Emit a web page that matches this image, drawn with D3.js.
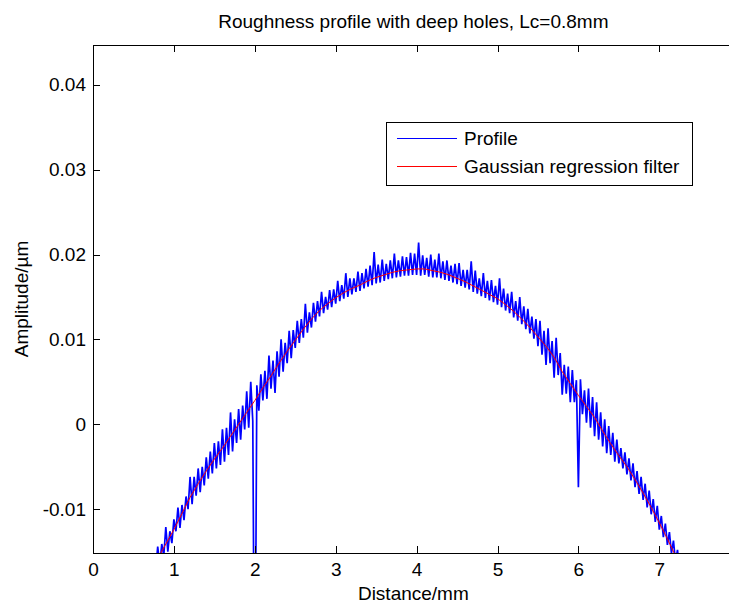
<!DOCTYPE html>
<html>
<head>
<meta charset="utf-8">
<script src="https://cdn.jsdelivr.net/npm/d3@7"></script>
<style>
  html, body { margin: 0; padding: 0; background: #fff; }
  svg { display: block; font-family: "Liberation Sans", Arial, Helvetica, sans-serif; }
</style>
</head>
<body>
<div class="chart"></div>
<script>
// texts
const chartTitle = "Roughness profile with deep holes, Lc=0.8mm";
const xLabel = "Distance/mm";
const yLabel = "Amplitude/µm";
const seriesNames = ["Profile", "Gaussian regression filter"];

// axes
const xDomain = [0, 7.92];
const yDomain = [-0.01516, 0.04468];
const xTicks = [0, 1, 2, 3, 4, 5, 6, 7];
const xTickLabels = ["0", "1", "2", "3", "4", "5", "6", "7"];
const yTicks = [-0.01, 0, 0.01, 0.02, 0.03, 0.04];
const yTickLabels = ["-0.01", "0", "0.01", "0.02", "0.03", "0.04"];

// measured profile, sampled every 0.025 mm from 0 mm
const profileStart = 0;
const profileStep = 0.025;
const profileY = [
  -0.0150, -0.0293, -0.0297, -0.0284, -0.0289, -0.0276, -0.0281, -0.0267, -0.0272, -0.0258,
  -0.0264, -0.0249, -0.0255, -0.0241, -0.0247, -0.0232, -0.0238, -0.0224, -0.0229, -0.0215,
  -0.0221, -0.0207, -0.0212, -0.0198, -0.0204, -0.0190, -0.0195, -0.0181, -0.0186, -0.0172,
  -0.0157, -0.0172, -0.0144, -0.0166, -0.0141, -0.0155, -0.0121, -0.0150, -0.0126, -0.0140,
  -0.0112, -0.0126, -0.0098, -0.0122, -0.0095, -0.0113, -0.0085, -0.0100, -0.0062, -0.0094,
  -0.0062, -0.0084, -0.0052, -0.0080, -0.0050, -0.0072, -0.0039, -0.0064, -0.0032, -0.0058,
  -0.0022, -0.0052, -0.0020, -0.0048, -0.0006, -0.0044, -0.0004, -0.0036, 0.0014, -0.0032,
  0.0006, -0.0022, 0.0018, -0.0018, 0.0022, -0.0006, 0.0039, -0.0004, 0.0050, 0.0004,
  -0.0400, 0.0046, 0.0016, 0.0059, 0.0028, 0.0063, 0.0030, 0.0081, 0.0042, 0.0075,
  0.0037, 0.0086, 0.0056, 0.0100, 0.0062, 0.0096, 0.0072, 0.0110, 0.0078, 0.0111,
  0.0090, 0.0122, 0.0096, 0.0124, 0.0102, 0.0142, 0.0108, 0.0132, 0.0114, 0.0143,
  0.0121, 0.0145, 0.0127, 0.0156, 0.0131, 0.0150, 0.0135, 0.0158, 0.0138, 0.0159,
  0.0142, 0.0169, 0.0145, 0.0164, 0.0148, 0.0178, 0.0150, 0.0172, 0.0153, 0.0172,
  0.0156, 0.0180, 0.0157, 0.0178, 0.0160, 0.0183, 0.0162, 0.0187, 0.0164, 0.0203,
  0.0166, 0.0188, 0.0167, 0.0194, 0.0169, 0.0189, 0.0171, 0.0193, 0.0172, 0.0201,
  0.0173, 0.0193, 0.0174, 0.0198, 0.0175, 0.0197, 0.0175, 0.0202, 0.0176, 0.0201,
  0.0176, 0.0214, 0.0175, 0.0199, 0.0176, 0.0196, 0.0174, 0.0200, 0.0173, 0.0194,
  0.0173, 0.0201, 0.0172, 0.0192, 0.0170, 0.0193, 0.0169, 0.0187, 0.0167, 0.0189,
  0.0165, 0.0190, 0.0163, 0.0182, 0.0161, 0.0182, 0.0159, 0.0192, 0.0156, 0.0181,
  0.0154, 0.0172, 0.0151, 0.0178, 0.0149, 0.0169, 0.0146, 0.0170, 0.0144, 0.0163,
  0.0141, 0.0172, 0.0138, 0.0160, 0.0134, 0.0154, 0.0131, 0.0156, 0.0126, 0.0145,
  0.0122, 0.0150, 0.0118, 0.0139, 0.0112, 0.0136, 0.0107, 0.0127, 0.0101, 0.0124,
  0.0092, 0.0122, 0.0082, 0.0110, 0.0070, 0.0113, 0.0072, 0.0098, 0.0055, 0.0102,
  0.0058, 0.0084, 0.0035, 0.0070, 0.0036, 0.0068, 0.0026, 0.0064, 0.0026, 0.0052,
  -0.0074, 0.0053, 0.0012, 0.0040, 0.0002, 0.0042, -0.0004, 0.0032, -0.0014, 0.0026,
  -0.0018, 0.0014, -0.0026, 0.0006, -0.0034, -0.0002, -0.0036, -0.0010, -0.0044, -0.0018,
  -0.0046, -0.0028, -0.0052, -0.0033, -0.0059, -0.0040, -0.0066, -0.0046, -0.0074, -0.0055,
  -0.0082, -0.0062, -0.0089, -0.0070, -0.0098, -0.0078, -0.0106, -0.0088, -0.0115, -0.0096,
  -0.0124, -0.0108, -0.0133, -0.0117, -0.0142, -0.0127, -0.0152, -0.0137, -0.0162, -0.0148,
  -0.0172
];

// gaussian regression filter (mean line), every 0.1 mm from 0.7 mm
const filterStart = 0.7;
const filterStep = 0.1;
const filterY = [
  -0.0175, -0.0158, -0.0141, -0.0124, -0.0105, -0.0086, -0.0070, -0.0055, -0.0041, -0.0028,
  -0.0014, 0.0000, 0.0014, 0.0028, 0.0043, 0.0057, 0.0072, 0.0086, 0.0099, 0.0112,
  0.0124, 0.0134, 0.0142, 0.0149, 0.0155, 0.0160, 0.0164, 0.0169, 0.0173, 0.0176,
  0.0179, 0.0181, 0.0182, 0.0183, 0.0183, 0.0181, 0.0179, 0.0176, 0.0172, 0.0168,
  0.0163, 0.0158, 0.0153, 0.0148, 0.0141, 0.0133, 0.0124, 0.0114, 0.0103, 0.0092,
  0.0079, 0.0062, 0.0048, 0.0034, 0.0021, 0.0008, -0.0008, -0.0023, -0.0037, -0.0050,
  -0.0065, -0.0081, -0.0098, -0.0116, -0.0135, -0.0155, -0.0175
];

let chart = {
  svg: {},
  x: {},
  y: {},
  config: {
    svgW: 729,
    svgH: 606,
    left: 93,
    top: 45,
    bottom: 553,
    pxPerMm: 80.9,
    fontSize: 19
  },
  init: function () {
    let c = this.config;
    this.svg = d3.select('.chart').append('svg')
      .attr('width', c.svgW)
      .attr('height', c.svgH)
      .attr('viewBox', `0 0 ${c.svgW} ${c.svgH}`);
    // scales
    this.x = d3.scaleLinear().domain(xDomain)
      .range([c.left, c.left + (xDomain[1] - xDomain[0]) * c.pxPerMm]);
    this.y = d3.scaleLinear().domain(yDomain).range([c.bottom, c.top]);
    this.lines();
    this.axes();
    this.texts();
    this.legend();
  },
  lines: function () {
    let x = this.x, y = this.y;
    let r = x.range();
    this.svg.append('clipPath').attr('id', 'plot')
      .append('rect')
      .attr('x', r[0]).attr('y', this.config.top)
      .attr('width', r[1] - r[0]).attr('height', this.config.bottom - this.config.top);

    let g = this.svg.append('g').attr('clip-path', 'url(#plot)');
    // blue profile, a bit thick so the zigzag reads as a band
    let profile = d3.line()
      .x(function (d, i) { return x(profileStart + i * profileStep); })
      .y(function (d) { return y(d); });
    g.append('path')
      .attr('d', profile(profileY))
      .attr('fill', 'none')
      .attr('stroke', '#0000ff')
      .attr('stroke-width', 1.7);
    // red filter line
    let filter = d3.line()
      .x(function (d, i) { return x(filterStart + i * filterStep); })
      .y(function (d) { return y(d); });
    g.append('path')
      .attr('d', filter(filterY))
      .attr('fill', 'none')
      .attr('stroke', '#ff0000')
      .attr('stroke-width', 1);
  },
  axes: function () {
    let c = this.config, x = this.x, y = this.y;
    let r = x.range();
    let fmtX = function (d) { return xTickLabels[xTicks.indexOf(d)]; };
    let fmtY = function (d) { return yTickLabels[yTicks.indexOf(d)]; };

    // box
    this.svg.append('rect')
      .attr('x', r[0]).attr('y', c.top)
      .attr('width', r[1] - r[0]).attr('height', c.bottom - c.top)
      .attr('fill', 'none').attr('stroke', '#000').attr('stroke-width', 1)
      .attr('shape-rendering', 'crispEdges');

    // ticks point inward like matlab
    let bottom = this.svg.append('g')
      .attr('transform', `translate(0,${c.bottom})`)
      .call(d3.axisBottom(x).tickValues(xTicks).tickFormat(fmtX).tickSizeInner(-7).tickSizeOuter(0).tickPadding(10));
    let top = this.svg.append('g')
      .attr('transform', `translate(0,${c.top})`)
      .call(d3.axisTop(x).tickValues(xTicks).tickFormat('').tickSizeInner(-7).tickSizeOuter(0));
    let left = this.svg.append('g')
      .attr('transform', `translate(${c.left},0)`)
      .call(d3.axisLeft(y).tickValues(yTicks).tickFormat(fmtY).tickSizeInner(-7).tickSizeOuter(0).tickPadding(7));

    [bottom, top, left].forEach(function (a) {
      a.select('.domain').remove();
      a.selectAll('line').attr('stroke', '#000').attr('shape-rendering', 'crispEdges');
      a.selectAll('text')
        .attr('fill', '#000')
        .style('font-size', c.fontSize + 'px')
        .style('font-family', '"Liberation Sans", Arial, sans-serif');
    });
  },
  texts: function () {
    let c = this.config;
    let r = this.x.range();
    let cx = (r[0] + r[1]) / 2;
    this.svg.append('text')
      .attr('x', cx).attr('y', 28)
      .attr('text-anchor', 'middle')
      .style('font-size', c.fontSize + 'px')
      .text(chartTitle);
    this.svg.append('text')
      .attr('x', cx).attr('y', 600)
      .attr('text-anchor', 'middle')
      .style('font-size', c.fontSize + 'px')
      .text(xLabel);
    this.svg.append('text')
      .attr('transform', `translate(28,${(c.top + c.bottom) / 2}) rotate(-90)`)
      .attr('text-anchor', 'middle')
      .style('font-size', c.fontSize + 'px')
      .text(yLabel);
  },
  legend: function () {
    let c = this.config;
    let colors = ['#0000ff', '#ff0000'];
    let lg = this.svg.append('g').attr('class', 'legend');
    lg.append('rect')
      .attr('x', 386.5).attr('y', 122.5)
      .attr('width', 306).attr('height', 63)
      .attr('fill', '#fff').attr('stroke', '#000').attr('stroke-width', 1);
    let items = lg.selectAll('g.item')
      .data(seriesNames)
      .enter()
      .append('g')
      .attr('class', 'item')
      .attr('transform', function (d, i) { return `translate(0,${138.5 + i * 28})`; });
    items.append('line')
      .attr('x1', 397).attr('x2', 457)
      .attr('stroke', function (d, i) { return colors[i]; })
      .attr('stroke-width', 1);
    items.append('text')
      .attr('x', 464).attr('dy', '0.36em')
      .style('font-size', c.fontSize + 'px')
      .text(function (d) { return d; });
  }
};

chart.init();
</script>
</body>
</html>
